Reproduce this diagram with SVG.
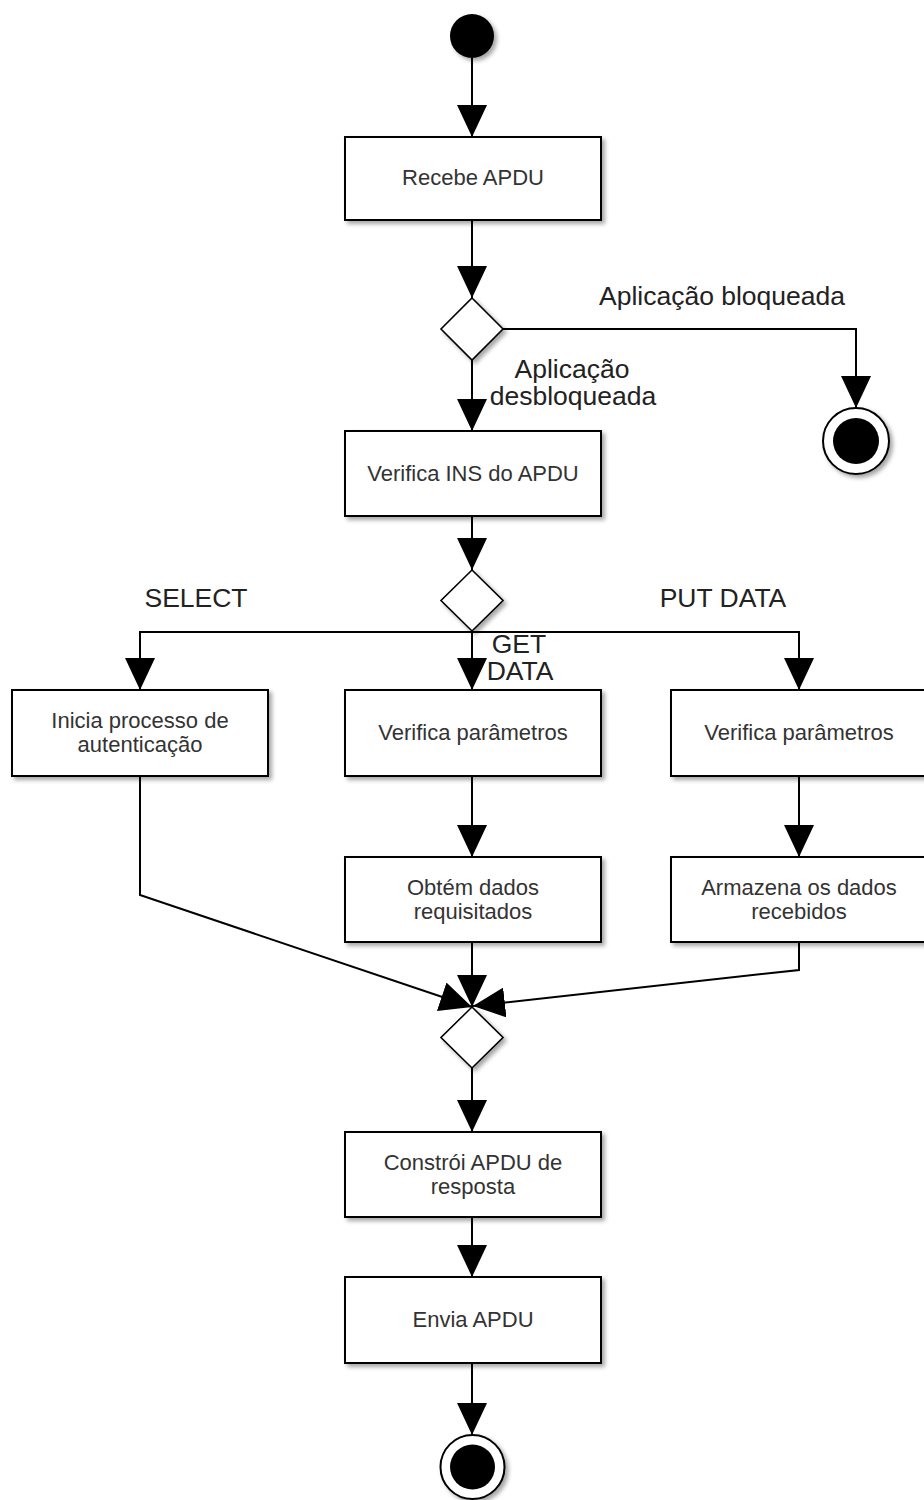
<svg xmlns="http://www.w3.org/2000/svg" width="924" height="1500" viewBox="0 0 924 1500">
<defs>
<filter id="sh" x="-20%" y="-20%" width="150%" height="150%">
<feDropShadow dx="3" dy="3" stdDeviation="2" flood-color="#000" flood-opacity="0.35"/>
</filter>
<marker id="arr" viewBox="0 0 32 30" refX="32" refY="15" markerWidth="32" markerHeight="30" markerUnits="userSpaceOnUse" orient="auto">
<path d="M0,0 L32,15 L0,30 z" fill="#000"/>
</marker>
</defs>
<style>
.box{fill:#fff;stroke:#000;stroke-width:2;filter:url(#sh)}
.dia{fill:#fff;stroke:#000;stroke-width:1.6;filter:url(#sh)}
.t{font-family:"Liberation Sans",Arial,sans-serif;font-size:22px;fill:#333;text-anchor:middle}
.lbl{font-family:"Liberation Sans",Arial,sans-serif;font-size:26.5px;fill:#222;text-anchor:middle}
.c{fill:none;stroke:#000;stroke-width:2;marker-end:url(#arr)}
</style>
<g id="connectors">
<path class="c" d="M472,58 L472,137"/>
<path class="c" d="M472,220 L472,298"/>
<path class="c" d="M503,329 L856,329 L856,408"/>
<path class="c" d="M472,360 L472,431"/>
<path class="c" d="M472,516 L472,570"/>
<path class="c" d="M472,632 L140,632 L140,690"/>
<path class="c" d="M472,631 L472,690"/>
<path class="c" d="M472,632 L799,632 L799,690"/>
<path class="c" d="M140,776 L140,895 L472,1007"/>
<path class="c" d="M472,776 L472,857"/>
<path class="c" d="M472,942 L472,1007"/>
<path class="c" d="M799,776 L799,857"/>
<path class="c" d="M799,942 L799,970 L473,1006"/>
<path class="c" d="M472,1068 L472,1132"/>
<path class="c" d="M472,1217 L472,1277"/>
<path class="c" d="M472,1363 L472,1435"/>
</g>
<g id="labels">
<text class="lbl" x="722" y="305">Aplicação bloqueada</text>
<text class="lbl" x="572" y="378">Aplicação</text>
<text class="lbl" x="573" y="405">desbloqueada</text>
<text class="lbl" x="196" y="607">SELECT</text>
<text class="lbl" x="723" y="607">PUT DATA</text>
<text class="lbl" x="519" y="653">GET</text>
<text class="lbl" x="520" y="680">DATA</text>
</g>
<g id="start"><circle cx="472" cy="36" r="22" fill="#000" filter="url(#sh)"/></g>
<g id="recebe"><rect class="box" x="345" y="137" width="256" height="83"/><text class="t" x="473" y="185">Recebe APDU</text></g>
<g id="dec1"><polygon class="dia" points="472,298 503,329 472,360 441,329"/></g>
<g id="end1"><circle cx="856" cy="441" r="33" fill="#fff" stroke="#000" stroke-width="2" filter="url(#sh)"/><circle cx="856" cy="441" r="23" fill="#000"/></g>
<g id="verificaINS"><rect class="box" x="345" y="431" width="256" height="85"/><text class="t" x="473" y="481">Verifica INS do APDU</text></g>
<g id="dec2"><polygon class="dia" points="472,570 503,600.5 472,631 441,600.5"/></g>
<g id="inicia"><rect class="box" x="12" y="690" width="256" height="86"/><text class="t" x="140" y="728">Inicia processo de</text><text class="t" x="140" y="752">autenticação</text></g>
<g id="verifica1"><rect class="box" x="345" y="690" width="256" height="86"/><text class="t" x="473" y="740">Verifica parâmetros</text></g>
<g id="verifica2"><rect class="box" x="671" y="690" width="256" height="86"/><text class="t" x="799" y="740">Verifica parâmetros</text></g>
<g id="obtem"><rect class="box" x="345" y="857" width="256" height="85"/><text class="t" x="473" y="895">Obtém dados</text><text class="t" x="473" y="919">requisitados</text></g>
<g id="armazena"><rect class="box" x="671" y="857" width="256" height="85"/><text class="t" x="799" y="895">Armazena os dados</text><text class="t" x="799" y="919">recebidos</text></g>
<g id="merge"><polygon class="dia" points="472,1007 503,1037.5 472,1068 441,1037.5"/></g>
<g id="constroi"><rect class="box" x="345" y="1132" width="256" height="85"/><text class="t" x="473" y="1170">Constrói APDU de</text><text class="t" x="473" y="1194">resposta</text></g>
<g id="envia"><rect class="box" x="345" y="1277" width="256" height="86"/><text class="t" x="473" y="1327">Envia APDU</text></g>
<g id="end2"><circle cx="472.5" cy="1467" r="32" fill="#fff" stroke="#000" stroke-width="2" filter="url(#sh)"/><circle cx="472.5" cy="1467" r="22.5" fill="#000"/></g>
</svg>
